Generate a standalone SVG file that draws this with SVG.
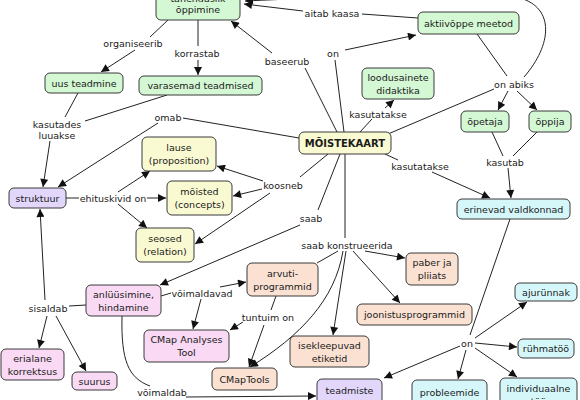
<svg xmlns="http://www.w3.org/2000/svg" width="580" height="400" viewBox="0 0 580 400">
<defs>
<marker id="arr" viewBox="0 0 10 10" refX="10" refY="5" markerWidth="10" markerHeight="8" orient="auto" markerUnits="userSpaceOnUse"><path d="M0,0 L10,5 L0,10 z" fill="#111"/></marker>
<style>
text{font-family:"DejaVu Sans",Verdana,sans-serif;font-size:9.5px;fill:#1a1a1a;text-anchor:middle}
.b{font-weight:bold;font-size:10px}
rect{stroke:#3a3a3a;stroke-width:1;rx:5;ry:5}
.g{fill:#d4f7d4}.y{fill:#fafad2}.p{fill:#e2d6fa}.k{fill:#f9d9f3}.o{fill:#fae1d2}.c{fill:#d6f7fa}
#connectors path,#connectors line{stroke:#222;stroke-width:1;fill:none}
.a{marker-end:url(#arr)}
</style>
</defs>
<rect x="0" y="0" width="580" height="400" style="fill:#fff;stroke:none"/>
<g id="connectors">
<line x1="168" y1="20" x2="150" y2="37"/><line class="a" x1="135" y1="50" x2="101" y2="72"/>
<line x1="198" y1="20" x2="198" y2="46"/><line class="a" x1="198" y1="60" x2="198" y2="75"/>
<line x1="78" y1="93" x2="65" y2="117"/><line x1="167" y1="95" x2="85" y2="121"/><line class="a" x1="50" y1="141" x2="43" y2="187"/>
<line x1="299" y1="138" x2="183" y2="118"/><line class="a" x1="158" y1="123" x2="58" y2="187"/>
<line x1="66" y1="198" x2="79" y2="198"/><line class="a" x1="147" y1="198" x2="166" y2="198"/><line class="a" x1="118" y1="192" x2="150" y2="171"/><line class="a" x1="118" y1="204" x2="147" y2="228"/>
<line x1="328" y1="154" x2="300" y2="177"/><line class="a" x1="263" y1="181" x2="217" y2="166"/><line class="a" x1="262" y1="189" x2="233" y2="196"/><line class="a" x1="270" y1="193" x2="195" y2="244"/>
<line x1="340" y1="154" x2="318" y2="210"/><line class="a" x1="300" y1="225" x2="160" y2="285"/>
<line x1="345" y1="154" x2="345" y2="238"/>
<line class="a" x1="365" y1="251" x2="405" y2="258"/><line x1="338" y1="251" x2="317" y2="263"/>
<path class="a" d="M343,251 C335,300 300,336 250,367"/>
<line class="a" x1="346" y1="251" x2="333" y2="335"/><line class="a" x1="353" y1="251" x2="400" y2="303"/>
<line x1="344" y1="132" x2="335" y2="60"/><line class="a" x1="345" y1="50" x2="416" y2="35"/>
<line x1="337" y1="132" x2="305" y2="68"/><line class="a" x1="272" y1="53" x2="231" y2="21"/>
<line x1="360" y1="132" x2="372" y2="119"/><line class="a" x1="385" y1="108" x2="394" y2="100"/>
<line x1="388" y1="134" x2="494" y2="89"/>
<line x1="477" y1="34" x2="507" y2="76"/><line class="a" x1="517" y1="91" x2="537" y2="110"/><line class="a" x1="508" y1="91" x2="498" y2="110"/>
<path class="a" d="M524,77 C552,45 555,8 520,-2 C470,-8 330,-3 245,1"/>
<line x1="418" y1="18" x2="362" y2="14"/><line class="a" x1="303" y1="11" x2="244" y2="4"/>
<line x1="385" y1="154" x2="398" y2="160"/><line class="a" x1="432" y1="172" x2="490" y2="198"/>
<line x1="492" y1="132" x2="503" y2="156"/><line x1="537" y1="132" x2="513" y2="156"/><line class="a" x1="508" y1="168" x2="511" y2="198"/>
<line x1="510" y1="219" x2="470" y2="335"/><line class="a" x1="466" y1="350" x2="458" y2="379"/>
<line class="a" x1="475" y1="338" x2="527" y2="302"/><line class="a" x1="475" y1="343" x2="517" y2="347"/><line class="a" x1="475" y1="348" x2="517" y2="377"/><line class="a" x1="460" y1="346" x2="384" y2="378"/>
<line class="a" x1="45" y1="300" x2="40" y2="209"/><line x1="86" y1="305" x2="69" y2="306"/><line class="a" x1="47" y1="316" x2="39" y2="348"/><line class="a" x1="56" y1="316" x2="86" y2="371"/>
<line x1="161" y1="296" x2="171" y2="293"/><line class="a" x1="220" y1="287" x2="246" y2="282"/><line class="a" x1="201" y1="299" x2="193" y2="329"/>
<line x1="276" y1="296" x2="271" y2="310"/><line class="a" x1="243" y1="322" x2="230" y2="330"/><line class="a" x1="264" y1="325" x2="249" y2="367"/>
<path d="M122,316 C121,360 128,378 150,386"/><line class="a" x1="186" y1="397" x2="316" y2="396"/>
</g>
<g id="labels">
<text x="133" y="46.5">organiseerib</text>
<text x="197" y="56.5">korrastab</text>
<text x="57" y="127.5">kasutades</text><text x="57" y="138.5">luuakse</text>
<text x="168" y="120.5">omab</text>
<text x="113" y="201.5">ehituskivid on</text>
<text x="283" y="188.5">koosneb</text>
<text x="311" y="221.5">saab</text>
<text x="347" y="248.5">saab konstrueerida</text>
<text x="333" y="56.5">on</text>
<text x="287" y="64.5">baseerub</text>
<text x="378" y="117.5">kasutatakse</text>
<text x="514" y="87.5">on abiks</text>
<text x="332" y="16.5">aitab kaasa</text>
<text x="420" y="169.5">kasutatakse</text>
<text x="505" y="165.5">kasutab</text>
<text x="467" y="346.5">on</text>
<text x="48" y="311.5">sisaldab</text>
<text x="202" y="296.5">võimaldavad</text>
<text x="268" y="320.5">tuntuim on</text>
<text x="162" y="395.5">võimaldab</text>
</g>
<g id="n-tahenduslik"><rect class="g" x="156" y="-14" width="84" height="34"/><text x="198" y="1.5">tähenduslik</text><text x="198" y="12.5">õppimine</text></g>
<g id="n-aktiiv"><rect class="g" x="418" y="12" width="101" height="22"/><text x="468.5" y="26.5">aktiivõppe meetod</text></g>
<g id="n-loodus"><rect class="g" x="362" y="68" width="72" height="31"/><text x="398" y="80.5">loodusainete</text><text x="398" y="93.5">didaktika</text></g>
<g id="n-opetaja"><rect class="g" x="461" y="111" width="48" height="21"/><text x="485" y="125">õpetaja</text></g>
<g id="n-oppija"><rect class="g" x="529" y="111" width="42" height="21"/><text x="550" y="125">õppija</text></g>
<g id="n-uus"><rect class="g" x="45" y="73" width="78" height="20"/><text x="84" y="86.5">uus teadmine</text></g>
<g id="n-varasemad"><rect class="g" x="139" y="76" width="123" height="19"/><text x="200.5" y="89">varasemad teadmised</text></g>
<g id="n-moistekaart"><rect class="y" x="299" y="132" width="92" height="22"/><text class="b" x="345" y="146.5">MÕISTEKAART</text></g>
<g id="n-lause"><rect class="y" x="142" y="137" width="74" height="34"/><text x="179" y="151">lause</text><text x="179" y="164">(proposition)</text></g>
<g id="n-moisted"><rect class="y" x="167" y="181" width="65" height="34"/><text x="199.5" y="195">mõisted</text><text x="199.5" y="208">(concepts)</text></g>
<g id="n-seosed"><rect class="y" x="136" y="228" width="58" height="34"/><text x="165" y="242">seosed</text><text x="165" y="255">(relation)</text></g>
<g id="n-struktuur"><rect class="p" x="9" y="188" width="57" height="20"/><text x="37.5" y="201.5">struktuur</text></g>
<g id="n-erinevad"><rect class="c" x="457" y="199" width="113" height="20"/><text x="513.5" y="212.5">erinevad valdkonnad</text></g>
<g id="n-paber"><rect class="o" x="406" y="253" width="52" height="32"/><text x="432" y="266">paber ja</text><text x="432" y="279">pliiats</text></g>
<g id="n-joonistus"><rect class="o" x="357" y="304" width="115" height="21"/><text x="414.5" y="318">joonistusprogrammid</text></g>
<g id="n-arvuti"><rect class="o" x="247" y="263" width="71" height="33"/><text x="282.5" y="276.5">arvuti-</text><text x="282.5" y="289.5">programmid</text></g>
<g id="n-anluusimine"><rect class="k" x="86" y="285" width="75" height="31"/><text x="123.5" y="297.5">anlüüsimine,</text><text x="123.5" y="310.5">hindamine</text></g>
<g id="n-cmapanalyses"><rect class="k" x="144" y="330" width="85" height="32"/><text x="186.5" y="343">CMap Analyses</text><text x="186.5" y="356">Tool</text></g>
<g id="n-isekleepuvad"><rect class="o" x="290" y="336" width="79" height="31"/><text x="329.5" y="348.5">isekleepuvad</text><text x="329.5" y="361.5">etiketid</text></g>
<g id="n-cmaptools"><rect class="o" x="212" y="368" width="65" height="22"/><text x="244.5" y="382.5">CMapTools</text></g>
<g id="n-erialane"><rect class="k" x="1" y="349" width="63" height="31"/><text x="32.5" y="361.5">erialane</text><text x="32.5" y="374.5">korrektsus</text></g>
<g id="n-suurus"><rect class="k" x="72" y="372" width="45" height="18"/><text x="94.5" y="384.5">suurus</text></g>
<g id="n-ajurunnak"><rect class="c" x="515" y="283" width="62" height="18"/><text x="546" y="295.5">ajurünnak</text></g>
<g id="n-ruhmatoo"><rect class="c" x="518" y="339" width="56" height="19"/><text x="546" y="352">rühmatöö</text></g>
<g id="n-teadmiste"><rect class="p" x="317" y="379" width="65" height="36"/><text x="349.5" y="393.5">teadmiste</text><text x="349.5" y="406.5">kontroll</text></g>
<g id="n-probleemide"><rect class="c" x="412" y="380" width="75" height="36"/><text x="449.5" y="395.5">probleemide</text><text x="449.5" y="408.5">lahendamine</text></g>
<g id="n-individuaalne"><rect class="c" x="500" y="378" width="77" height="36"/><text x="538.5" y="391.5">individuaalne</text><text x="538.5" y="404.5">töö</text></g>
</svg>
